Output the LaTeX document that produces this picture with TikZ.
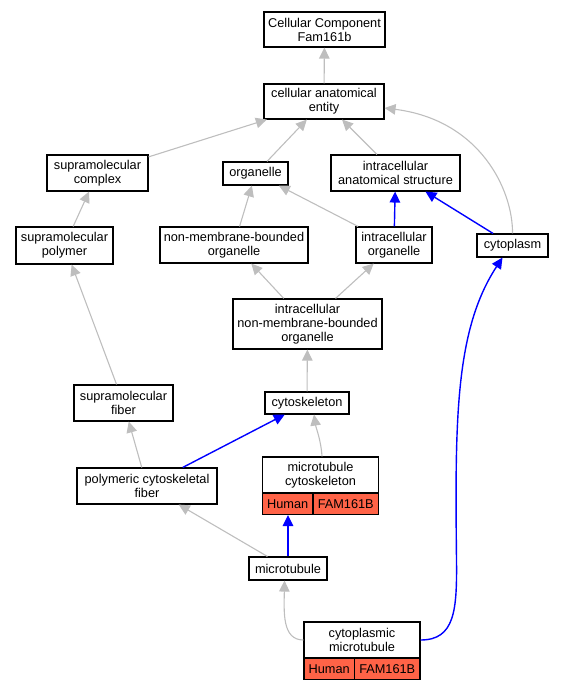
\documentclass[tikz,border=0pt]{standalone}
\usepackage{fontspec}
\setmainfont{Liberation Sans}
\usetikzlibrary{arrows.meta}
\definecolor{edgegray}{RGB}{190,190,190}
\definecolor{tomatofill}{RGB}{255,99,71}
\newcommand\fs{\fontsize{12.8}{14}\selectfont}
\begin{document}
\begin{tikzpicture}[x=1bp,y=-1bp,
  box/.style={draw=black, line width=1.1bp, fill=white, inner sep=0pt, align=center, font=\fs},
  cell/.style={box, fill=tomatofill},
  ge/.style={draw=edgegray, line width=1.1bp, -{Triangle[length=11bp,width=10.5bp,fill=edgegray]}},
  be/.style={draw=blue, line width=1.4bp, -{Triangle[length=11bp,width=10.5bp,fill=blue]}}]
\useasboundingbox (0,0) rectangle (563,691);
% nodes
\node[box, minimum width=121bp, minimum height=35bp] (cc) at (324.5,29.5) {Cellular Component\\Fam161b};
\node[box, minimum width=120bp, minimum height=35bp] (cae) at (324,101.5) {cellular anatomical\\entity};
\node[box, minimum width=101bp, minimum height=36bp] (sc) at (97.5,173) {supramolecular\\complex};
\node[box, minimum width=65bp, minimum height=23bp] (org) at (255.5,173.5) {organelle};
\node[box, minimum width=129bp, minimum height=36bp] (ias) at (395.5,173) {intracellular\\anatomical structure};
\node[box, minimum width=97bp, minimum height=37bp] (sp) at (64.5,245.5) {supramolecular\\polymer};
\node[box, minimum width=148bp, minimum height=36bp] (nmbo) at (234,245) {non-membrane-bounded\\organelle};
\node[box, minimum width=76bp, minimum height=36bp] (io) at (394,245) {intracellular\\organelle};
\node[box, minimum width=71bp, minimum height=23bp] (cyt) at (512.5,245.5) {cytoplasm};
\node[box, minimum width=149bp, minimum height=50bp] (inmbo) at (307.5,324) {intracellular\\non-membrane-bounded\\organelle};
\node[box, minimum width=84bp, minimum height=22bp] (cyk) at (307,403) {cytoskeleton};
\node[box, minimum width=99bp, minimum height=36bp] (sf) at (123.5,403) {supramolecular\\fiber};
\node[box, minimum width=140bp, minimum height=36bp] (pcf) at (147,486) {polymeric cytoskeletal\\fiber};
\node[box, minimum width=116bp, minimum height=36bp] (mtc) at (320.5,475) {microtubule\\cytoskeleton};
\node[cell, minimum width=50.5bp, minimum height=21.5bp] (mtch) at (287.75,503.75) {Human};
\node[cell, minimum width=65.5bp, minimum height=21.5bp] (mtcf) at (345.75,503.75) {FAM161B};
\node[box, minimum width=78bp, minimum height=23bp] (mt) at (288,568.5) {microtubule};
\node[box, minimum width=116bp, minimum height=36bp] (cm) at (362,640) {cytoplasmic\\microtubule};
\node[cell, minimum width=50.5bp, minimum height=21.5bp] (cmh) at (329.25,668.75) {Human};
\node[cell, minimum width=65.5bp, minimum height=21.5bp] (cmf) at (387.25,668.75) {FAM161B};
% edges
\draw[ge] (cae) -- (cc);
\draw[ge] (sc) -- (cae);
\draw[ge] (org) -- (cae);
\draw[ge] (ias) -- (cae);
\draw[ge] (cyt.north) .. controls (513,190) and (480,120) .. ([yshift=-6.5bp]cae.east);
\draw[be] (io) -- (ias);
\draw[be] (cyt) -- (ias);
\draw[ge] (sp) -- (sc);
\draw[ge] (nmbo) -- (org);
\draw[ge] (io) -- (org);
\draw[ge] (inmbo) -- (nmbo);
\draw[ge] (inmbo) -- (io);
\draw[ge] (cyk) -- (inmbo);
\draw[ge] (sf) -- (sp);
\draw[ge] (pcf) -- (sf);
\draw[be] (pcf) -- (cyk);
\draw[ge] ([xshift=1.5bp]mtc.north) .. controls (321,440) and (316,428) .. ([xshift=7bp]cyk.south);
\draw[ge] (mt) -- (pcf);
\draw[be] (mt.north) -- (mt.north |- mtch.south);
\draw[ge] (cm.west) .. controls (282,640) and (284,612) .. ([xshift=-3.5bp]mt.south);
\draw[be] (cm.east) .. controls (455,640) and (457,610) .. (456.5,560) .. controls (455,420) and (455,330) .. ([xshift=-10bp]cyt.south);
\end{tikzpicture}
\end{document}
